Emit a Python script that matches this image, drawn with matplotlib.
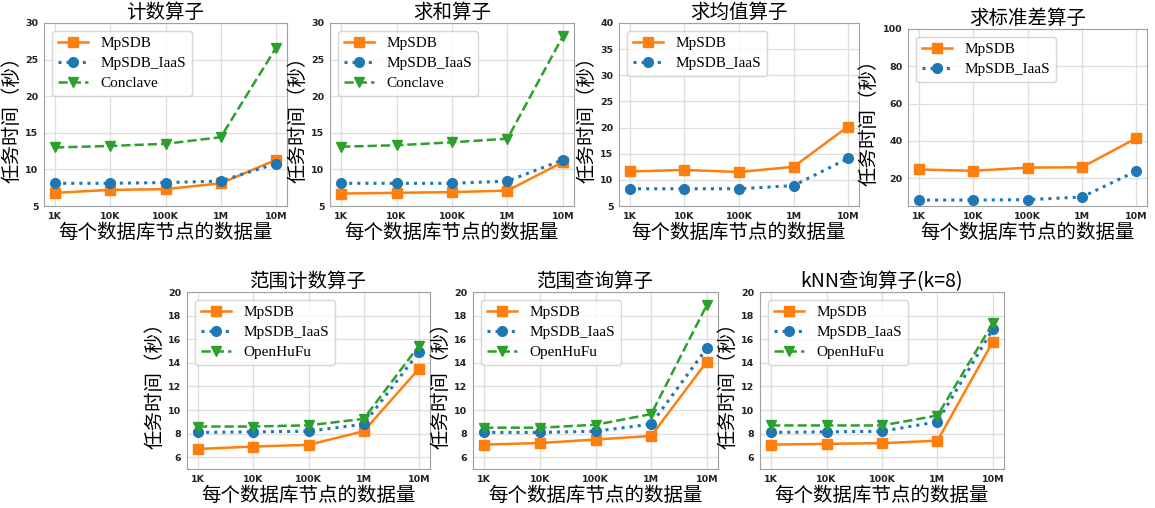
import matplotlib
matplotlib.use('Agg')
import matplotlib.pyplot as plt

plt.rcParams['font.family'] = ['Noto Sans CJK SC', 'DejaVu Sans']
plt.rcParams['axes.unicode_minus'] = False

sizes = ['1K', '10K', '100K', '1M', '10M']
ylabel = '任务时间（秒）'
xlabel = '每个数据库节点的数据量'

# 计数 / 求和: MpSDB, MpSDB_IaaS, Conclave
count_mpsdb = [6.8, 7.2, 7.3, 8.1, 11.3]
count_iaas = [8.1, 8.1, 8.2, 8.4, 10.8]
count_conclave = [13.0, 13.2, 13.5, 14.4, 26.6]

sum_mpsdb = [6.7, 6.8, 6.9, 7.1, 11.0]
sum_iaas = [8.1, 8.1, 8.1, 8.4, 11.3]
sum_conclave = [13.1, 13.3, 13.7, 14.2, 28.2]

avg_mpsdb = [11.6, 11.9, 11.5, 12.5, 20.2]
avg_iaas = [8.3, 8.3, 8.3, 8.9, 14.1]

std_mpsdb = [24.6, 23.9, 25.6, 25.8, 41.3]
std_iaas = [8.2, 8.2, 8.4, 9.8, 23.7]

# 范围计数 / 范围查询 / kNN: MpSDB, MpSDB_IaaS, OpenHuFu
rcount_mpsdb = [6.7, 6.9, 7.05, 8.2, 13.5]
rcount_iaas = [8.1, 8.15, 8.2, 8.8, 14.9]
rcount_hufu = [8.6, 8.6, 8.7, 9.25, 15.45]

rquery_mpsdb = [7.07, 7.2, 7.5, 7.8, 14.1]
rquery_iaas = [8.1, 8.1, 8.2, 8.8, 15.25]
rquery_hufu = [8.5, 8.5, 8.75, 9.65, 18.9]

knn_mpsdb = [7.07, 7.13, 7.19, 7.4, 15.8]
knn_iaas = [8.1, 8.15, 8.2, 9.0, 16.86]
knn_hufu = [8.69, 8.69, 8.69, 9.53, 17.37]

W, H = 1155, 508
fig = plt.figure(figsize=(W / 100, H / 100), dpi=100)


def make_ax(left, top, width, height):
    return fig.add_axes([left / W, 1 - (top + height) / H, width / W, height / H])


STYLES = {
    'MpSDB': dict(color='#ff7f0e', marker='s', linestyle='-', linewidth=1.8, markersize=7),
    'MpSDB_IaaS': dict(color='#1f77b4', marker='o', linestyle=':', linewidth=2.2, markersize=7),
    'Conclave': dict(color='#2ca02c', marker='v', linestyle='--', linewidth=1.8, markersize=7),
    'OpenHuFu': dict(color='#2ca02c', marker='v', linestyle='--', linewidth=1.8, markersize=7),
}


def draw(ax, title, series, ylim, yticks):
    x = list(range(len(sizes)))
    for name, vals in series:
        ax.plot(x, vals, label=name, **STYLES[name])
    ax.set_xticks(x)
    ax.set_xticklabels(sizes)
    ax.set_ylim(*ylim)
    ax.set_yticks(yticks)
    ax.tick_params(labelsize=6.8, length=0, pad=4)
    for lab in ax.get_xticklabels() + ax.get_yticklabels():
        lab.set_family('DejaVu Sans')
        lab.set_fontweight('bold')
        lab.set_color('#222222')
    ax.grid(True, color='#dedede', linewidth=0.9)
    ax.set_axisbelow(True)
    for sp in ax.spines.values():
        sp.set_color('#a0a0a0')
    ax.set_title(title, fontsize=14, pad=1)
    ax.set_ylabel(ylabel, fontsize=14, labelpad=2)
    ax.set_xlabel(xlabel, fontsize=14, labelpad=1)
    ax.legend(loc='upper left', prop={'family': 'Liberation Serif', 'size': 11},
              handlelength=2.0, borderaxespad=0.5, labelspacing=0.4)


ax1 = make_ax(44, 23, 243, 183)
draw(ax1, '计数算子', [('MpSDB', count_mpsdb), ('MpSDB_IaaS', count_iaas),
                       ('Conclave', count_conclave)], (5, 30), [5, 10, 15, 20, 25, 30])

ax2 = make_ax(330, 23, 244, 183)
draw(ax2, '求和算子', [('MpSDB', sum_mpsdb), ('MpSDB_IaaS', sum_iaas),
                       ('Conclave', sum_conclave)], (5, 30), [5, 10, 15, 20, 25, 30])

ax3 = make_ax(619, 23, 240, 183)
draw(ax3, '求均值算子', [('MpSDB', avg_mpsdb), ('MpSDB_IaaS', avg_iaas)],
     (5, 40), [5, 10, 15, 20, 25, 30, 35, 40])

ax4 = make_ax(908, 29, 239, 177)
draw(ax4, '求标准差算子', [('MpSDB', std_mpsdb), ('MpSDB_IaaS', std_iaas)],
     (5, 100), [20, 40, 60, 80, 100])

yt = [6, 8, 10, 12, 14, 16, 18, 20]
ax5 = make_ax(187, 292, 243, 177)
draw(ax5, '范围计数算子', [('MpSDB', rcount_mpsdb), ('MpSDB_IaaS', rcount_iaas),
                         ('OpenHuFu', rcount_hufu)], (5, 20), yt)

ax6 = make_ax(473, 292, 245, 177)
draw(ax6, '范围查询算子', [('MpSDB', rquery_mpsdb), ('MpSDB_IaaS', rquery_iaas),
                         ('OpenHuFu', rquery_hufu)], (5, 20), yt)

ax7 = make_ax(760, 292, 244, 177)
draw(ax7, 'kNN查询算子(k=8)', [('MpSDB', knn_mpsdb), ('MpSDB_IaaS', knn_iaas),
                              ('OpenHuFu', knn_hufu)], (5, 20), yt)

fig.savefig('out.png', dpi=100)
